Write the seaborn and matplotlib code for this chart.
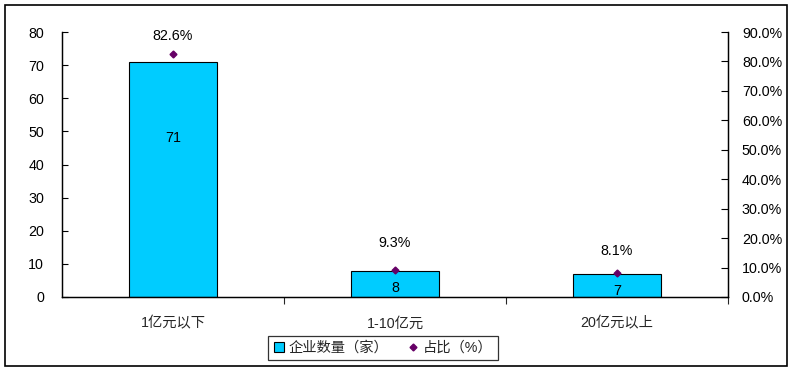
import matplotlib
matplotlib.use("Agg")
import matplotlib.pyplot as plt
import seaborn as sns
import pandas as pd
from matplotlib.patches import Rectangle
from matplotlib.lines import Line2D
from matplotlib.ticker import FuncFormatter, FixedLocator

categories = ["1亿元以下", "1-10亿元", "20亿元以上"]
counts = [71, 8, 7]
shares = [0.826, 0.093, 0.081]
count_label = "企业数量（家）"
share_label = "占比（%）"

sns.set_theme(style="white")
plt.rcParams['font.family'] = ['Liberation Sans', 'Noto Sans CJK SC', 'DejaVu Sans']

FS = 10.3

df = pd.DataFrame({"cat": categories, "count": counts, "share": shares})

fig = plt.figure(figsize=(7.92, 3.72), dpi=100)
fig.patch.set_facecolor("white")
fig.patches.append(Rectangle((5/792, 1-366/372), (787-5)/792, (366-5)/372,
                             transform=fig.transFigure, fill=False,
                             edgecolor="black", linewidth=1.2))

ax = fig.add_axes([62/792, 1-297/372, (728-62)/792, (297-32)/372])
sns.barplot(data=df, x="cat", y="count", color="#00CCFF", edgecolor="black",
            linewidth=0.8, width=0.4, saturation=1, ax=ax)
ax.set_ylim(0, 80)
ax.set_xlim(-0.5, 2.5)
ax.set_yticks(range(0, 81, 10))
ax.set_xlabel("")
ax.set_ylabel("")
ax.tick_params(axis="y", direction="in", length=4, width=0.8, labelsize=FS,
               left=True, pad=13, colors="black")
ax.tick_params(axis="x", which="major", length=0, labelsize=FS, pad=14)
ax.xaxis.set_minor_locator(FixedLocator([0.5, 1.5, 2.5]))
ax.tick_params(axis="x", which="minor", direction="out", length=5, width=0.8,
               bottom=True)
ax.spines["top"].set_visible(False)
for s in ["left", "bottom", "right"]:
    ax.spines[s].set_color("black")
    ax.spines[s].set_linewidth(0.9)

# count labels inside bars
count_label_y = [48, 2.7, 1.8]
for i, (c, yy) in enumerate(zip(counts, count_label_y)):
    ax.text(i, yy, str(c), ha="center", va="center", fontsize=FS, color="black")

ax2 = ax.twinx()
ax2.plot(range(len(shares)), shares, linestyle="none", marker="D",
         markersize=3.5, color="#660066")
ax2.set_ylim(0, 0.9)
ax2.set_yticks([i/10 for i in range(10)])
ax2.yaxis.set_major_formatter(FuncFormatter(lambda v, p: f"{v*100:.1f}%"))
ax2.tick_params(axis="y", direction="in", length=5, width=0.8, labelsize=FS,
                right=True, pad=10, colors="black")
ax2.spines["top"].set_visible(False)
for s in ["left", "bottom", "right"]:
    ax2.spines[s].set_color("black")
    ax2.spines[s].set_linewidth(0.9)
ax2.set_ylabel("")

offsets = [12.5, 19, 16]
for i, (s, off) in enumerate(zip(shares, offsets)):
    ax2.annotate(f"{s*100:.1f}%", (i, s), xytext=(0, off), textcoords="offset points",
                 ha="center", va="center", fontsize=FS, color="black")

handles = [
    Line2D([0], [0], marker="s", linestyle="none", markersize=7,
           markerfacecolor="#00CCFF", markeredgecolor="black", markeredgewidth=0.8),
    Line2D([0], [0], marker="D", linestyle="none", markersize=3.5, color="#660066"),
]
leg = fig.legend(handles, [count_label, share_label], loc="center",
                 bbox_to_anchor=(383/792, 1-348/372), ncol=2, frameon=True,
                 fontsize=FS, handlelength=0.8, handletextpad=0.3,
                 columnspacing=1.3, borderpad=0.35, fancybox=False)
leg.get_frame().set_edgecolor("black")
leg.get_frame().set_linewidth(0.9)

fig.savefig("out.png", dpi=100)
